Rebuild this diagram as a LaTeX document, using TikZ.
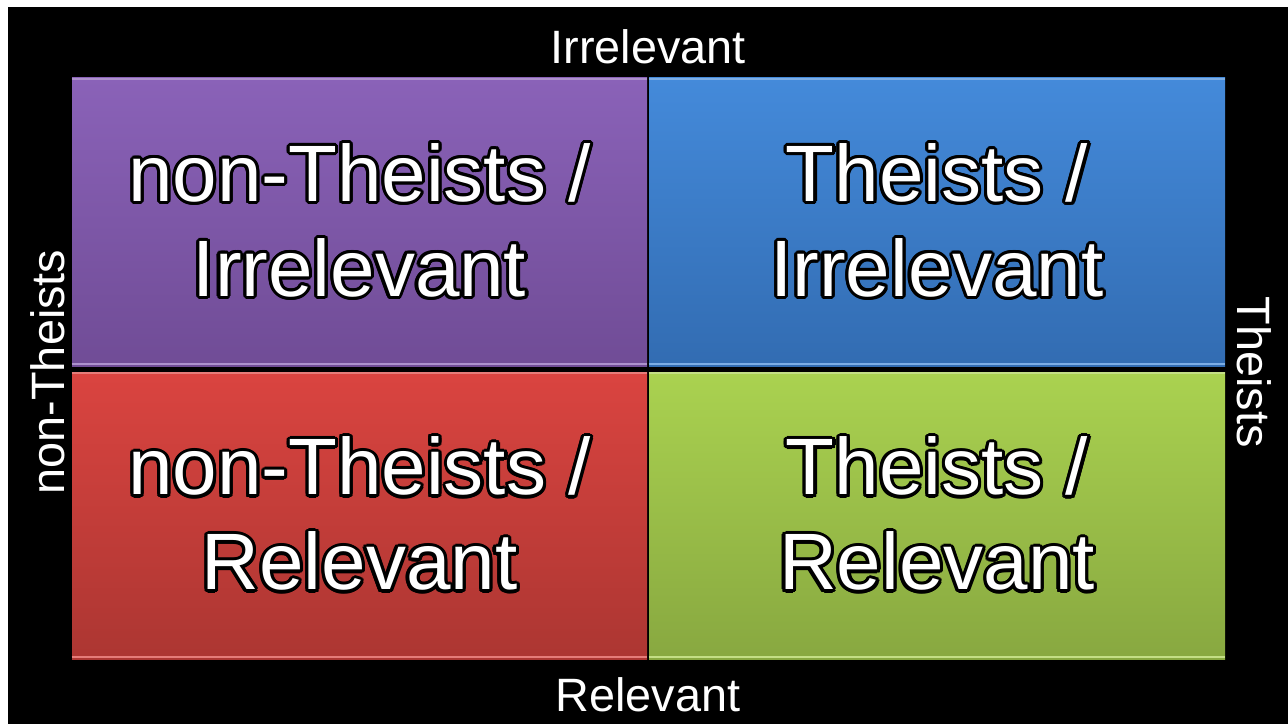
\documentclass[tikz,border=0pt]{standalone}
\usepackage{fontspec}
\setmainfont{Liberation Sans}
\usepackage[copies]{contour}
\usepackage{tikz}
\usetikzlibrary{positioning,calc}

\contourlength{1.6pt}
\newcommand{\glow}[1]{\contour{black}{#1}}

\definecolor{purptop}{RGB}{138,98,184}
\definecolor{purpbot}{RGB}{112,76,150}
\definecolor{bluetop}{RGB}{68,138,218}
\definecolor{bluebot}{RGB}{50,108,178}
\definecolor{redtop}{RGB}{218,68,64}
\definecolor{redbot}{RGB}{172,54,50}
\definecolor{greentop}{RGB}{170,210,80}
\definecolor{greenbot}{RGB}{136,168,64}

\begin{document}
\begin{tikzpicture}[x=0.5pt, y=0.5pt,
  quad/.style={minimum width=287.5pt, minimum height=144pt, inner sep=0pt,
    text=white, align=center, font=\fontsize{40}{47.5}\selectfont},
  axislabel/.style={text=white, inner sep=0pt, font=\fontsize{23.4}{28}\selectfont}]
  \useasboundingbox (0,0) rectangle (1288,724);
  \fill[white] (0,0) rectangle (1288,724);
  \fill[black] (8,0) rectangle (1288,717);

  % Quadrants
  \node[quad, top color=purptop, bottom color=purpbot] (ntirr) at (359.5, 502) {\glow{non-Theists /}\\\glow{Irrelevant}};
  \node[quad, top color=bluetop, bottom color=bluebot, minimum width=288pt] (tirr) at (937, 502) {\glow{Theists /}\\\glow{Irrelevant}};
  \node[quad, top color=redtop, bottom color=redbot, minimum height=143.5pt] (ntrel) at (359.5, 208.5) {\glow{non-Theists /}\\\glow{Relevant}};
  \node[quad, top color=greentop, bottom color=greenbot, minimum width=288pt, minimum height=143.5pt] (trel) at (937, 208.5) {\glow{Theists /}\\\glow{Relevant}};

  % bevel edges
  \foreach \q/\c in {ntirr/purptop, tirr/bluetop, ntrel/redtop, trel/greentop}{
    \draw[\c!70!white, line width=1pt] ([yshift=1.2pt]\q.south west) -- ([yshift=1.2pt]\q.south east);
    \draw[\c!70!white, line width=1pt] ([yshift=-0.8pt]\q.north west) -- ([yshift=-0.8pt]\q.north east);
  }

  % Axis labels
  \node[axislabel] (irr) at (648, 677.5) {Irrelevant};
  \node[axislabel] (rel) at (648, 29) {Relevant};
  \node[axislabel, rotate=90] (nonth) at (47.5, 352) {non-Theists};
  \node[axislabel, rotate=-90] (th) at (1254.5, 352) {Theists};

\end{tikzpicture}
\end{document}
